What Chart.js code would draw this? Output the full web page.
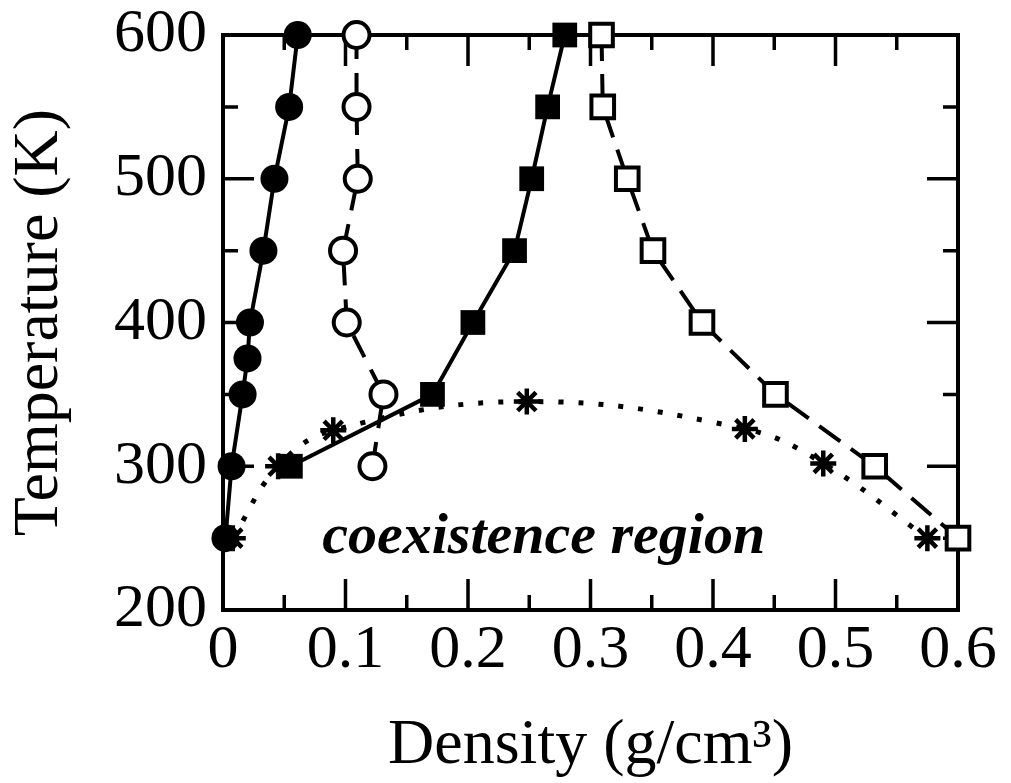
<!DOCTYPE html>
<html>
<head>
<meta charset="utf-8">
<script src="https://cdn.jsdelivr.net/npm/chart.js@4"></script>
<style>
  body { margin: 0; background: #fff; }
  #wrap { width: 1011px; height: 783px; position: relative; }
</style>
</head>
<body>
<div id="wrap"><canvas id="myChart"></canvas></div>
<script>
// filled circles (solid line)
const fcDensity = [0.061, 0.054, 0.042, 0.033, 0.022, 0.020, 0.016, 0.007, 0.002];
const fcTemp = [600, 550, 500, 450, 400, 375, 350, 300, 250];
// open circles (dashed line)
const ocDensity = [0.109, 0.109, 0.110, 0.098, 0.101, 0.131, 0.122];
const ocTemp = [600, 550, 500, 450, 400, 350, 300];
// filled squares (solid line)
const fsDensity = [0.279, 0.265, 0.252, 0.238, 0.204, 0.171, 0.055];
const fsTemp = [600, 550, 500, 450, 400, 350, 300];
// open squares (dashed line)
const osDensity = [0.309, 0.310, 0.330, 0.351, 0.391, 0.451, 0.532, 0.600];
const osTemp = [600, 550, 500, 450, 400, 350, 300, 250];
// stars (dotted coexistence curve)
const stDensity = [0.008, 0.045, 0.090, 0.248, 0.426, 0.490, 0.575];
const stTemp = [250, 300, 325, 345, 326, 302, 250];

const xTickLabels = ['0', '0.1', '0.2', '0.3', '0.4', '0.5', '0.6'];
const yTickLabels = ['200', '300', '400', '500', '600'];
const regionLabel = 'coexistence region';

const serif = '"Liberation Serif", "DejaVu Serif", serif';

function toPoints(xs, ys) {
    let pts = [];
    for (let i = 0; i < xs.length; i++) {
        pts.push({ x: xs[i], y: ys[i] });
    }
    return pts;
}

// box around the plot with inward ticks on all four sides + the label
const frameTicks = {
    id: 'frameTicks',
    beforeDatasetsDraw(chart) {
        const ctx = chart.ctx;
        const xs = chart.scales.x;
        const ys = chart.scales.y;
        const a = chart.chartArea;
        ctx.save();
        ctx.strokeStyle = '#000';
        ctx.lineWidth = 3.5;
        ctx.lineCap = 'butt';
        ctx.beginPath();
        for (let v = 0; v <= 0.6001; v += 0.05) {
            const major = Math.abs(v * 10 - Math.round(v * 10)) < 0.001;
            const len = major ? 31 : 15;
            const px = xs.getPixelForValue(v);
            ctx.moveTo(px, a.bottom); ctx.lineTo(px, a.bottom - len);
            ctx.moveTo(px, a.top); ctx.lineTo(px, a.top + len);
        }
        for (let v = 200; v <= 600; v += 50) {
            const len = (v % 100 === 0) ? 31 : 15;
            const py = ys.getPixelForValue(v);
            ctx.moveTo(a.left, py); ctx.lineTo(a.left + len, py);
            ctx.moveTo(a.right, py); ctx.lineTo(a.right - len, py);
        }
        ctx.stroke();
        ctx.lineWidth = 4;
        ctx.strokeRect(a.left, a.top, a.right - a.left, a.bottom - a.top);

        ctx.fillStyle = '#000';
        ctx.font = 'italic bold 58px ' + serif;
        ctx.textAlign = 'left';
        ctx.textBaseline = 'alphabetic';
        ctx.fillText(regionLabel, xs.getPixelForValue(0.081), ys.getPixelForValue(240));
        ctx.restore();
    }
};

const data = {
    datasets: [{
        label: 'filled circles',
        data: toPoints(fcDensity, fcTemp),
        borderColor: '#000',
        backgroundColor: '#000',
        borderWidth: 4,
        pointStyle: 'circle',
        pointRadius: 14,
        pointBorderWidth: 0,
        clip: false
    }, {
        label: 'open circles',
        data: toPoints(ocDensity, ocTemp),
        borderColor: '#000',
        backgroundColor: '#fff',
        borderWidth: 4,
        borderDash: [24, 14],
        pointStyle: 'circle',
        pointRadius: 13,
        pointBorderWidth: 4,
        clip: false
    }, {
        label: 'filled squares',
        data: toPoints(fsDensity, fsTemp),
        borderColor: '#000',
        backgroundColor: '#000',
        borderWidth: 4,
        pointStyle: 'rect',
        pointRadius: 17.5,
        pointBorderWidth: 0,
        clip: false
    }, {
        label: 'open squares',
        data: toPoints(osDensity, osTemp),
        borderColor: '#000',
        backgroundColor: '#fff',
        borderWidth: 4,
        borderDash: [26, 13],
        pointStyle: 'rect',
        pointRadius: 16,
        pointBorderWidth: 4,
        clip: false
    }, {
        label: 'coexistence',
        data: toPoints(stDensity, stTemp),
        borderColor: '#000',
        backgroundColor: '#000',
        borderWidth: 5,
        borderDash: [5, 15],
        tension: 0.4,
        pointStyle: 'star',
        pointRadius: 13,
        pointBorderWidth: 4.5,
        clip: false
    }]
};

const config = {
    type: 'line',
    data: data,
    plugins: [frameTicks],
    options: {
        responsive: true,
        maintainAspectRatio: false,
        animation: false,
        layout: { padding: { top: 35, right: 53, left: 0, bottom: 0 } },
        plugins: {
            legend: { display: false },
            tooltip: { enabled: false }
        },
        scales: {
            x: {
                type: 'linear',
                min: 0,
                max: 0.6,
                afterFit: (scale) => {
                    scale.height = 173;
                    scale.paddingLeft = 0;
                    scale.paddingRight = 0;
                },
                grid: { display: false, drawTicks: false },
                border: { display: false },
                ticks: {
                    stepSize: 0.1,
                    padding: 4,
                    color: '#000',
                    font: { family: serif, size: 62 },
                    maxRotation: 0,
                    autoSkip: false,
                    callback: (v, i) => xTickLabels[i]
                },
                title: {
                    display: true,
                    text: 'Density (g/cm³)',
                    color: '#000',
                    font: { family: serif, size: 64, lineHeight: 1.15 },
                    padding: { top: 0, bottom: 0 }
                }
            },
            y: {
                type: 'linear',
                min: 200,
                max: 600,
                afterFit: (scale) => {
                    scale.width = 223;
                    scale.paddingTop = 0;
                    scale.paddingBottom = 0;
                },
                grid: { display: false, drawTicks: false },
                border: { display: false },
                ticks: {
                    stepSize: 100,
                    padding: 16,
                    color: '#000',
                    font: { family: serif, size: 62 },
                    autoSkip: false,
                    callback: (v, i) => yTickLabels[i]
                },
                title: {
                    display: true,
                    text: 'Temperature (K)',
                    color: '#000',
                    font: { family: serif, size: 64, lineHeight: 1.2 },
                    padding: { top: 2, bottom: 0 }
                }
            }
        }
    }
};

const ctx = document.getElementById('myChart');
let myChart = new Chart(ctx, config);
</script>
</body>
</html>
